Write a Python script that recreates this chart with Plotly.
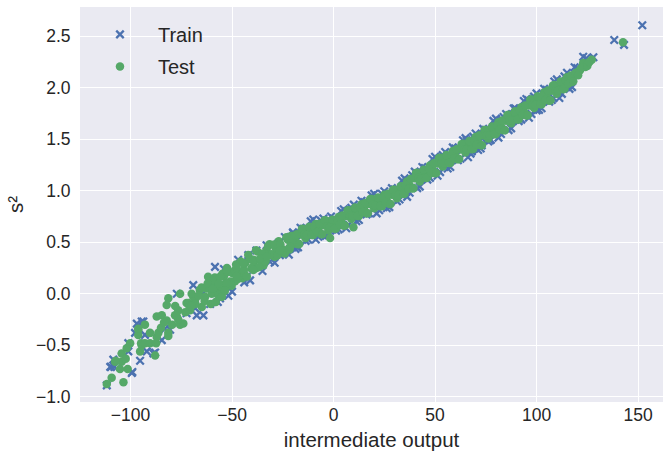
import plotly.graph_objects as go

# ---- Train series ----
train_x = [
    -20, -17.5, -15, -12.5, -10, -7.5, -5, -2.5, 0, 2.5,
    5, 7.5, 10, 12.5, 15, 17.5, 20, 22.5, 25, 27.5,
    30, 32.5, 35, 37.5, 40, 42.5, 45, 47.5, 50, 52.5,
    55, 57.5, 60, 62.5, 65, 67.5, 70, 72.5, 75, 77.5,
    80, 82.5, 85, 87.5, 90, 92.5, 95, 97.5, 100, 102.5,
    105, 107.5, 110, 112.5, 115, 117.5, 120, 123, 124.5, 128,
    138.3, 143.1, 152.1, 110, 108.3, 100.1, 91.9, 89.4, 82.9, 77.1,
    73, 68.1, 65.6, 95.8, -18, -8, 3, 13, 23, 33,
    43, 53, 63, 73, 83, 93, 103, 113,
    -18.75, -16.25, -13.75, -11.25, -8.75, -6.25, -3.75, -1.25, 1.25, 3.75,
    6.25, 8.75, 11.25, 13.75, 16.25, 18.75, 21.25, 23.75, 26.25, 28.75,
    31.25, 33.75, 36.25, 38.75, 41.25, 43.75, 46.25, 48.75, 51.25, 53.75,
    56.25, 58.75, 61.25, 63.75, 66.25, 68.75, 71.25, 73.75, 76.25, 78.75,
    81.25, 83.75, 86.25, 88.75, 91.25, 93.75, 96.25, 98.75, 101.25, 103.75,
    106.25, 108.75, 111.25, 113.75, 116.25, 118.75,
    -111.7, -108.5, -109.6, -108, -99.1, -95.3, -101.1, -101.1, -96.9, -93.7,
    -92, -87.9, -84.6, -83, -80.5, -67.4, -64.1, -60.8, -77.2, -68.2,
    -97.8, -92.9, -58.4, -51.8, -55.9, -99.4, -110, -88.7, -94.5, -42.8,
    -42, -41.1, -31.3, -26.4, -19.8, -18.1, -69.1, -65, -72.4, -27.2,
    -57, -54, -50, -47, -44, -38, -35, -33, -29, -24, -22,
]
train_y = [
    0.595, 0.45, 0.63, 0.525, 0.72, 0.553, 0.73, 0.568, 0.73, 0.625,
    0.82, 0.67, 0.865, 0.715, 0.89, 0.78, 0.97, 0.81, 0.995, 0.84,
    1.01, 0.915, 1.12, 0.98, 1.185, 1.04, 1.22, 1.125, 1.33, 1.18,
    1.375, 1.23, 1.41, 1.31, 1.51, 1.36, 1.555, 1.41, 1.59, 1.495,
    1.70, 1.55, 1.745, 1.605, 1.79, 1.69, 1.89, 1.745, 1.945, 1.80,
    1.98, 1.88, 2.08, 1.94, 2.145, 2.005, 2.19, 2.30, 2.285, 2.295,
    2.463, 2.415, 2.606, 1.99, 1.90, 1.78, 1.70, 1.80, 1.69, 1.49,
    1.44, 1.38, 1.49, 1.88, 0.52, 0.63, 0.70, 0.81, 0.90, 0.99,
    1.14, 1.27, 1.39, 1.51, 1.64, 1.77, 1.90, 2.03,
    0.435, 0.64, 0.513, 0.703, 0.526, 0.709, 0.561, 0.749, 0.613, 0.803,
    0.635, 0.835, 0.703, 0.903, 0.77, 0.955, 0.78, 0.97, 0.83, 1.025,
    0.898, 1.098, 0.94, 1.15, 1.025, 1.23, 1.108, 1.308, 1.145, 1.345,
    1.215, 1.42, 1.295, 1.49, 1.325, 1.525, 1.395, 1.60, 1.478, 1.678,
    1.515, 1.715, 1.588, 1.798, 1.675, 1.87, 1.708, 1.913, 1.785, 1.99,
    1.865, 2.06, 1.90, 2.11, 1.988, 2.198,
    -0.89, -0.64, -0.71, -0.71, -0.76, -0.65, -0.56, -0.48, -0.29, -0.27,
    -0.56, -0.57, -0.45, -0.34, -0.35, -0.21, -0.21, -0.10, 0.0, -0.14,
    -0.38, -0.40, 0.26, -0.02, -0.045, -0.77, -0.71, -0.58, -0.27, 0.165,
    0.375, 0.13, 0.31, 0.375, 0.586, 0.456, 0.084, -0.01, -0.19, 0.49,
    -0.08, 0.24, 0.02, 0.33, 0.11, 0.42, 0.22, 0.47, 0.30, 0.55, 0.38,
]

# ---- Test series ----
test_x = [
    -20, -18.8, -17.5, -16.2, -15, -13.8, -12.5, -11.2, -10, -8.8,
    -7.5, -6.2, -5, -3.8, -2.5, -1.2, 0, 1.2, 2.5, 3.8,
    5, 6.2, 7.5, 8.8, 10, 11.2, 12.5, 13.8, 15, 16.2,
    17.5, 18.8, 20, 21.2, 22.5, 23.8, 25, 26.2, 27.5, 28.8,
    30, 31.2, 32.5, 33.8, 35, 36.2, 37.5, 38.8, 40, 41.2,
    42.5, 43.8, 45, 46.2, 47.5, 48.8, 50, 51.2, 52.5, 53.8,
    55, 56.2, 57.5, 58.8, 60, 61.2, 62.5, 63.8, 65, 66.2,
    67.5, 68.8, 70, 71.2, 72.5, 73.8, 75, 76.2, 77.5, 78.8,
    80, 81.2, 82.5, 83.8, 85, 86.2, 87.5, 88.8, 90, 91.2,
    92.5, 93.8, 95, 96.2, 97.5, 98.8, 100, 101.2, 102.5, 103.8,
    105, 106.2, 107.5, 108.8, 110, 111.2, 112.5, 113.8, 115, 116.2,
    117.5, 118.8, 120, 121.4, 123, 124, 125.5, 127.2, 142.6, -1.7,
    9.8,
    -19.4, -18.1, -16.9, -15.6, -14.4, -13.1, -11.9, -10.6, -9.4, -8.1,
    -6.9, -5.6, -4.4, -3.1, -1.9, -0.6, 0.6, 1.9, 3.1, 4.4,
    5.6, 6.9, 8.1, 9.4, 10.6, 11.9, 13.1, 14.4, 15.6, 16.9,
    18.1, 19.4, 20.6, 21.9, 23.1, 24.4, 25.6, 26.9, 28.1, 29.4,
    30.6, 31.9, 33.1, 34.4, 35.6, 36.9, 38.1, 39.4, 40.6, 41.9,
    43.1, 44.4, 45.6, 46.9, 48.1, 49.4, 50.6, 51.9, 53.1, 54.4,
    55.6, 56.9, 58.1, 59.4, 60.6, 61.9, 63.1, 64.4, 65.6, 66.9,
    68.1, 69.4, 70.6, 71.9, 73.1, 74.4, 75.6, 76.9, 78.1, 79.4,
    80.6, 81.9, 83.1, 84.4, 85.6, 86.9, 88.1, 89.4, 90.6, 91.9,
    93.1, 94.4, 95.6, 96.9, 98.1, 99.4, 100.6, 101.9, 103.1, 104.4,
    105.6, 106.9, 108.1, 109.4, 110.6, 111.9, 113.1, 114.4, 115.6, 116.9,
    118.1, 119.4, 120.5, 122, 125, 126,
    -58.5, -57, -55.5, -54, -52.5, -51, -49.5, -48, -46.5, -45,
    -43.5, -42, -40.5, -39, -37.5, -36, -34.5, -33, -31.5, -30,
    -28.5, -27, -25.5, -24, -22.5, -21,
    -57.5, -53, -48.5, -44, -38, -33.5, -29, -26, -22,
    -59.2, -56.2, -54.7, -53.2, -51.7, -50.2, -48.7, -47.2, -45.7, -44.2,
    -42.7, -41.2, -39.7, -38.2, -36.7, -35.2, -33.7, -32.2, -30.7, -29.2,
    -27.7, -26.2, -24.7, -23.2, -21.7, -20.5,
    -111.7, -109.3, -103.5, -107.6, -104.4, -101.9, -100.2, -96.2, -94.5, -87.9,
    -81.4, -87.1, -75.6, -74, -77.2, -81.4, -75.6, -72.4, -69.1, -65.9,
    -61.8, -59.2, -55.9, -52.6, -47.7, -44.4, -39.5, -36.2, -32.9, -26.4,
    -21.4, -62.5, -52.6, -47.7, -39.5, -70.7,
    -95.3, -94.8, -92.9, -90.4, -87.4, -96.2, -90.4, -86.3, -92.9, -87.1,
    -84.6, -82.2, -82.2, -78.1, -76.5, -71.5, -68.2, -63.3, -64.9, -69.9,
    -60, -56.7, -105.2, -101.4, -104.4, -102.4, -107.3, -96.2, -81.4,
    -68, -66.5, -65, -63.5, -62, -60.5, -59.5, -58, -56.5, -55,
    -53.5, -85, -83.5, -79.5, -78, -76.5, -73, -71, -70,
]
test_y = [
    0.56, 0.514, 0.48, 0.576, 0.63, 0.542, 0.595, 0.638, 0.57, 0.676,
    0.622, 0.579, 0.665, 0.711, 0.617, 0.664, 0.70, 0.632, 0.745, 0.698,
    0.66, 0.754, 0.81, 0.726, 0.78, 0.822, 0.755, 0.868, 0.82, 0.78,
    0.87, 0.92, 0.83, 0.88, 0.92, 0.85, 0.96, 0.91, 0.87, 0.96,
    1.01, 0.927, 0.985, 1.033, 0.97, 1.089, 1.05, 1.021, 1.12, 1.174,
    1.09, 1.146, 1.19, 1.127, 1.245, 1.203, 1.17, 1.264, 1.32, 1.236,
    1.29, 1.334, 1.27, 1.386, 1.34, 1.304, 1.40, 1.456, 1.37, 1.424,
    1.47, 1.406, 1.52, 1.474, 1.44, 1.536, 1.59, 1.507, 1.565, 1.613,
    1.55, 1.664, 1.62, 1.586, 1.68, 1.737, 1.655, 1.713, 1.76, 1.694,
    1.81, 1.766, 1.73, 1.827, 1.885, 1.803, 1.86, 1.904, 1.84, 1.956,
    1.91, 1.874, 1.97, 2.026, 1.94, 1.999, 2.05, 1.99, 2.10, 2.067,
    2.055, 2.133, 2.15, 2.17, 2.24, 2.20, 2.24, 2.27, 2.44, 0.54,
    0.645,
    0.487, 0.578, 0.482, 0.628, 0.576, 0.569, 0.651, 0.569, 0.648, 0.60,
    0.68, 0.577, 0.713, 0.655, 0.64, 0.717, 0.631, 0.714, 0.671, 0.759,
    0.662, 0.808, 0.757, 0.753, 0.836, 0.754, 0.836, 0.794, 0.88, 0.78,
    0.92, 0.865, 0.855, 0.935, 0.85, 0.93, 0.885, 0.97, 0.87, 1.01,
    0.958, 0.957, 1.043, 0.967, 1.055, 1.02, 1.115, 1.025, 1.172, 1.123,
    1.117, 1.203, 1.123, 1.212, 1.173, 1.267, 1.172, 1.318, 1.267, 1.263,
    1.347, 1.268, 1.352, 1.313, 1.402, 1.308, 1.452, 1.403, 1.397, 1.483,
    1.402, 1.488, 1.447, 1.538, 1.442, 1.588, 1.538, 1.537, 1.623, 1.547,
    1.632, 1.593, 1.682, 1.588, 1.733, 1.687, 1.683, 1.772, 1.692, 1.778,
    1.737, 1.828, 1.733, 1.882, 1.833, 1.832, 1.917, 1.838, 1.922, 1.883,
    1.972, 1.878, 2.022, 1.973, 1.97, 2.06, 1.985, 2.075, 2.038, 2.117,
    2.063, 2.142, 2.12, 2.19, 2.21, 2.25,
    0.158, 0.076, 0.024, 0.172, 0.25, 0.118, 0.196, 0.284, 0.202, 0.15,
    0.298, 0.376, 0.244, 0.322, 0.41, 0.328, 0.276, 0.424, 0.48, 0.37,
    0.442, 0.51, 0.436, 0.39, 0.525, 0.56,
    0.0, 0.06, 0.12, 0.19, 0.25, 0.32, 0.36, 0.40, 0.44,
    0.10, -0.004, 0.194, 0.102, 0.21, 0.078, 0.226, 0.144, 0.312, 0.23,
    0.168, 0.336, 0.264, 0.422, 0.26, 0.388, 0.316, 0.464, 0.382, 0.477,
    0.37, 0.48, 0.423, 0.547, 0.43, 0.495,
    -0.877, -0.815, -0.86, -0.66, -0.58, -0.53, -0.48, -0.35, -0.50, -0.60,
    -0.41, -0.42, -0.30, -0.29, -0.22, -0.045, 0.0, -0.09, -0.03, 0.036,
    0.165, 0.13, 0.165, 0.23, 0.26, 0.295, 0.33, 0.34, 0.36, 0.42,
    0.456, 0.05, 0.10, 0.165, 0.23, -0.16,
    -0.56, -0.48, -0.48, -0.48, -0.48, -0.40, -0.38, -0.38, -0.30, -0.22,
    -0.21, -0.26, -0.11, -0.21, -0.16, -0.09, -0.06, -0.03, -0.13, 0.0,
    0.0, -0.01, -0.73, -0.73, -0.66, -0.63, -0.65, -0.34, -0.38,
    -0.10, -0.02, 0.06, -0.07, 0.10, -0.10, 0.05, -0.08, 0.10, -0.03,
    0.03, -0.33, -0.28, -0.30, -0.12, -0.25, -0.18, -0.12, -0.12,
]

x_ticks = [-100, -50, 0, 50, 100, 150]
y_ticks = [-1.0, -0.5, 0.0, 0.5, 1.0, 1.5, 2.0, 2.5]

BLUE = "#4C72B0"
GREEN = "#55A868"
TXT = "#262626"
FONT = "Liberation Sans, Arial, sans-serif"

fig = go.Figure()
fig.add_trace(go.Scatter(
    x=train_x, y=train_y, mode="markers", name="Train", legendgroup="a",
    marker=dict(symbol="x-thin", size=7.5, color=BLUE,
                line=dict(color=BLUE, width=2.3)),
))
fig.add_trace(go.Scatter(
    x=test_x, y=test_y, mode="markers", name="Test", legendgroup="b",
    marker=dict(symbol="circle", size=8.5, color=GREEN, line=dict(width=0)),
))

fig.update_layout(
    width=663, height=452, autosize=False,
    margin=dict(l=80, r=0, t=7, b=50, autoexpand=False),
    paper_bgcolor="white", plot_bgcolor="#EAEAF2",
    font=dict(family=FONT, color=TXT, size=17.5),
    showlegend=True,
    legend=dict(x=0.0034, y=0.98, xanchor="left", yanchor="top",
                bgcolor="rgba(0,0,0,0)", borderwidth=0,
                font=dict(size=20, color=TXT), tracegroupgap=3,
                itemwidth=66, itemsizing="trace"),
)
fig.update_xaxes(
    range=[-124.9, 162.3], tickvals=x_ticks,
    showgrid=True, gridcolor="white", gridwidth=1.3,
    zeroline=False, showline=False,
    ticks="",
    tickfont=dict(size=17.5, color=TXT),
    title=dict(text="intermediate output", font=dict(size=20.5, color=TXT), standoff=9),
)
fig.update_yaxes(
    range=[-1.051, 2.783], tickvals=y_ticks, tickformat=".1f",
    showgrid=True, gridcolor="white", gridwidth=1.3,
    zeroline=False, showline=False,
    ticks="outside", ticklen=5, tickcolor="rgba(0,0,0,0)",
    tickfont=dict(size=17.5, color=TXT),
    title=dict(text="s²", font=dict(size=20.5, color=TXT), standoff=6),
)

fig.write_html("out.html", config={"displayModeBar": False},
               post_script="document.body.style.margin='0px';document.body.style.overflow='hidden';")
